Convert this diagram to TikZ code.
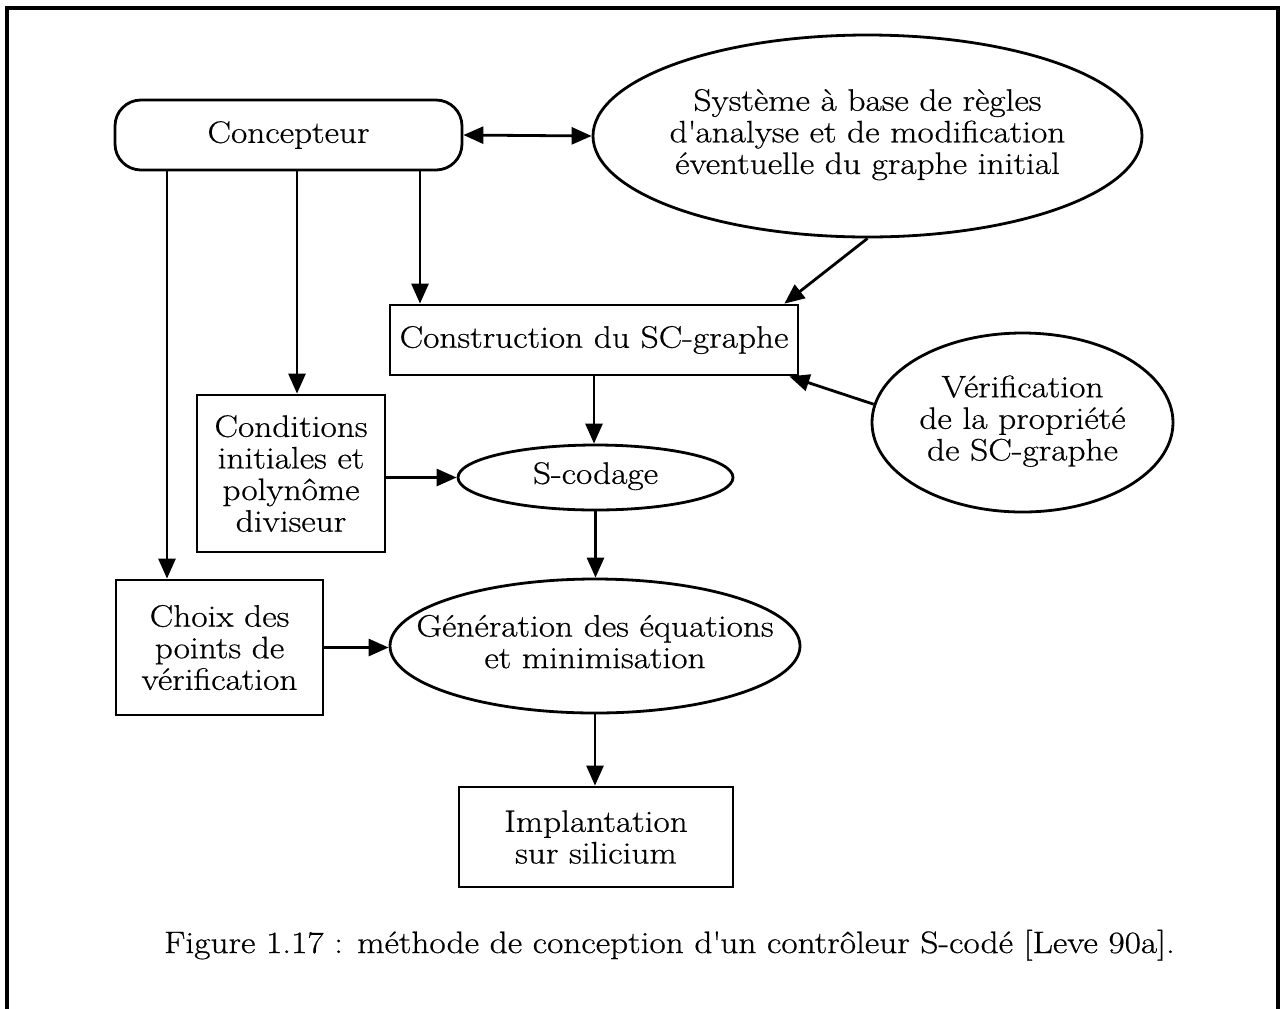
\documentclass[tikz,border=0pt]{standalone}
\usepackage{fontspec}
\setmainfont{Latin Modern Roman}[FakeStretch=1.14, FakeBold=0.6]
\usetikzlibrary{arrows.meta,shapes.geometric,calc}
\newcommand\txtf{\fontsize{15.5}{15.8}\selectfont}
\newcommand\zwtext[1]{\makebox[0pt]{\begin{tabular}{@{}c@{}}#1\end{tabular}}}
\newcommand\apo{\textquotesingle}
\begin{document}
\begin{tikzpicture}[x=0.5pt,y=-0.5pt,
  every node/.style={font=\txtf, align=center, inner sep=0pt, line width=1.4pt},
  box/.style={draw, rectangle},
  rbox/.style={draw, rectangle, rounded corners=13pt},
  ell/.style={draw, ellipse},
  tip/.tip={Triangle[length=10pt,width=8.5pt]},
  arr/.style={line width=1.4pt, -tip},
  darr/.style={line width=1.4pt, tip-tip}]
\useasboundingbox (0,0) rectangle (1285,1008);
% frame
\draw[line width=1.6pt] (7,1015) -- (7,8) -- (1278,8) -- (1278,1015);

% nodes
\node[rbox, minimum width=173.5pt, minimum height=35pt] (conc) at (288.5,135) {Concepteur};
\node[ell, minimum width=274.5pt, minimum height=101pt] (sys) at (867.5,136)
  {\zwtext{Système à base de règles\\d\apo analyse et de modification\\éventuelle du graphe initial}};
\node[box, minimum width=204pt, minimum height=35pt] (cons) at (594,340) {Construction du SC-graphe};
\node[ell, minimum width=150.5pt, minimum height=89.5pt] (verif) at (1022.5,422.5)
  {\zwtext{Vérification\\de la propriété\\de SC-graphe}};
\node[box, minimum width=94pt, minimum height=78.5pt] (cond) at (291,473.5)
  {Conditions\\initiales et\\polynôme\\diviseur};
\node[ell, minimum width=137.5pt, minimum height=32.5pt] (scod) at (595.5,477.5) {\zwtext{S-codage}};
\node[box, minimum width=103.5pt, minimum height=67.5pt] (choix) at (219.5,647.5)
  {Choix des\\points de\\vérification};
\node[ell, minimum width=205pt, minimum height=67pt] (gen) at (595,646)
  {\zwtext{Génération des équations\\et minimisation}};
\node[box, minimum width=137pt, minimum height=50pt] (impl) at (596,837)
  {Implantation\\sur silicium};
\node[anchor=base] (cap) at (669.5,953)
  {Figure 1.17 : méthode de conception d\apo un contrôleur S-codé [Leve 90a].};

% helper columns for the drops from Concepteur
\coordinate (xa) at (167,0);
\coordinate (xb) at (297,0);
\coordinate (xc) at (420,0);

% connectors
\draw[darr] (conc.east) -- (sys.west);
\draw[arr] (conc.south -| xa) -- (choix.north -| xa);
\draw[arr] (conc.south -| xb) -- (cond.north -| xb);
\draw[arr] (conc.south -| xc) -- (cons.north -| xc);
\draw[arr] (sys.south) -- ($(cons.north east)+(-15,0)$);
\draw[arr] (verif.173) -- ($(cons.south east)+(-10,0)$);
\draw[arr] (cons.south) -- (scod.north -| cons.south);
\draw[arr] (cond.east |- scod.west) -- (scod.west);
\draw[arr] (scod.south) -- (gen.north -| scod.south);
\draw[arr] (choix.east) -- (gen.west |- choix.east);
\draw[arr] (gen.south) -- (impl.north -| gen.south);
\end{tikzpicture}
\end{document}
